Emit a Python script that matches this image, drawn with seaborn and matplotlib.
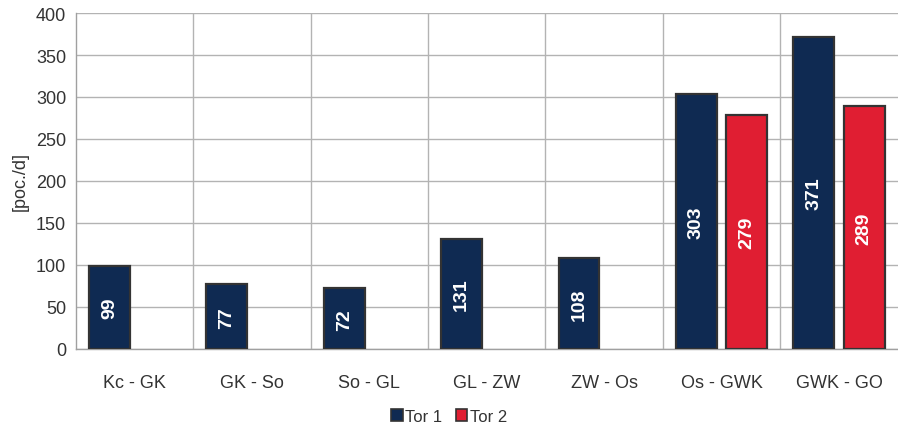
import matplotlib
matplotlib.use("Agg")
import matplotlib.pyplot as plt
import seaborn as sns
import pandas as pd
import numpy as np
from matplotlib.ticker import FixedLocator, MultipleLocator
from matplotlib.patches import Patch

categories = ["Kc - GK", "GK - So", "So - GL", "GL - ZW", "ZW - Os", "Os - GWK", "GWK - GO"]
tor1 = [99, 77, 72, 131, 108, 303, 371]
tor2 = [np.nan, np.nan, np.nan, np.nan, np.nan, 279, 289]
series = ["Tor 1", "Tor 2"]
colors = ["#0f2a52", "#e01e32"]

df = pd.DataFrame({
    "cat": categories * 2,
    "val": tor1 + tor2,
    "series": [series[0]] * len(categories) + [series[1]] * len(categories),
})

sns.set_theme(style="white")
plt.rcParams["font.family"] = ["Liberation Sans", "DejaVu Sans"]

fig = plt.figure(figsize=(8.98, 4.31), dpi=100)
ax = fig.add_axes([0.0846, 0.188, 0.915, 0.7795])

sns.barplot(data=df, x="cat", y="val", hue="series", order=categories,
            hue_order=series, palette=colors, width=0.86, gap=0.19,
            saturation=1, edgecolor="#333333", linewidth=1.6, legend=False,
            ax=ax, zorder=3, errorbar=None)

for cont in ax.containers:
    for rect in cont:
        h = rect.get_height()
        if np.isnan(h) or h == 0:
            continue
        ax.text(rect.get_x() + rect.get_width() / 2, h / 2, f"{int(round(h))}",
                rotation=90, ha="center", va="center", color="white",
                fontsize=14, fontweight="bold", zorder=4)

ax.set_ylim(0, 400)
ax.set_xlim(-0.5, len(categories) - 0.5)
ax.yaxis.set_major_locator(MultipleLocator(50))
ax.xaxis.set_minor_locator(FixedLocator(np.arange(0.5, len(categories) - 0.5, 1)))
ax.grid(axis="y", which="major", color="#b3b3b3", linewidth=1, zorder=0)
ax.grid(axis="x", which="minor", color="#b3b3b3", linewidth=1, zorder=0)
ax.grid(axis="x", which="major", visible=False)
ax.set_axisbelow(True)

for s in ["top", "right"]:
    ax.spines[s].set_visible(False)
ax.spines["left"].set_color("#a0a0a0")
ax.spines["bottom"].set_color("#a0a0a0")
ax.spines["left"].set_linewidth(1)
ax.spines["bottom"].set_linewidth(1)

ax.tick_params(axis="both", which="both", length=0, labelsize=13, colors="#333333")
ax.tick_params(axis="x", pad=18)
ax.tick_params(axis="y", pad=7)
ax.set_xlabel("")
ax.set_ylabel("[poc./d]", fontsize=13, color="#333333", labelpad=5)

handles = [Patch(facecolor=c, edgecolor="#333333", linewidth=1.2) for c in colors]
fig.legend(handles, series, loc="center", bbox_to_anchor=(0.5, 0.032), ncol=2,
           frameon=False, fontsize=12, handlelength=0.7, handleheight=0.7,
           handletextpad=0.15, columnspacing=0.8, labelcolor="#333333")

fig.savefig("out.png", dpi=100)
